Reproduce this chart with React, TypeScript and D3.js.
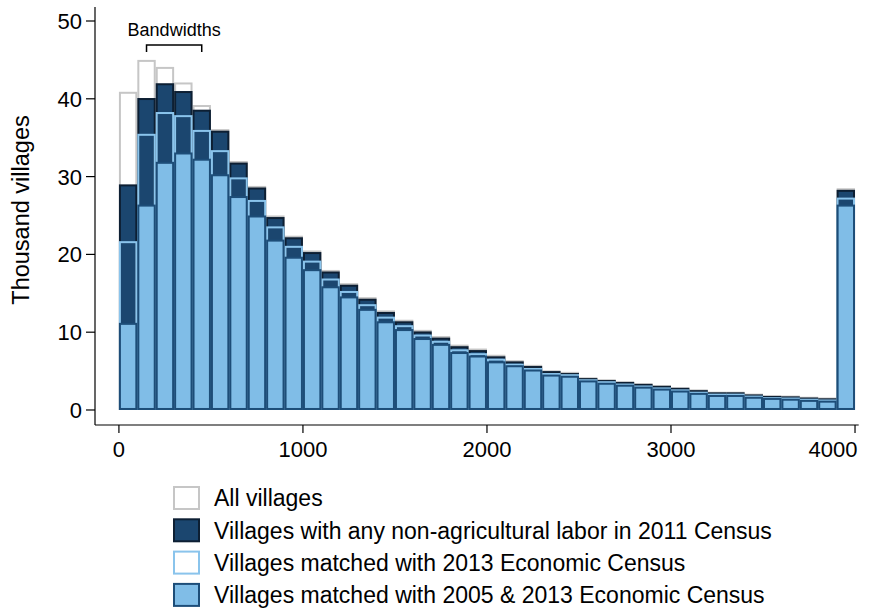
import React from "react";
import * as d3 from "d3";

const binStarts = d3.range(0, 4000, 100);

const allVillages = [40.9, 45.0, 44.1, 42.1, 39.2, 36.1, 32.0, 28.8, 25.0, 22.4, 20.5, 18.0, 16.3, 14.5, 12.8, 11.6, 10.3, 9.5, 8.4, 7.9, 7.1, 6.4, 5.8, 5.1, 4.9, 4.2, 3.95, 3.7, 3.45, 3.2, 2.9, 2.65, 2.35, 2.35, 2.1, 1.9, 1.85, 1.7, 1.6, 28.5];
const nonAgLabor = [29.0, 40.1, 42.0, 41.0, 38.6, 35.9, 31.8, 28.6, 24.8, 22.2, 20.3, 17.8, 16.1, 14.3, 12.6, 11.4, 10.1, 9.3, 8.2, 7.7, 6.9, 6.25, 5.65, 5.0, 4.75, 4.1, 3.85, 3.6, 3.35, 3.1, 2.85, 2.55, 2.27, 2.27, 2.0, 1.8, 1.75, 1.6, 1.5, 28.3];
const matched2013 = [21.7, 35.5, 38.3, 37.9, 36.0, 33.4, 29.9, 27.0, 23.6, 21.1, 19.2, 16.9, 15.3, 13.6, 12.0, 10.9, 9.7, 8.9, 7.8, 7.3, 6.6, 5.95, 5.4, 4.75, 4.6, 3.95, 3.7, 3.4, 3.15, 2.9, 2.65, 2.35, 2.1, 2.1, 1.85, 1.65, 1.6, 1.45, 1.35, 27.3];
const matchedBoth = [11.2, 26.4, 31.9, 33.1, 32.3, 30.3, 27.5, 25.0, 21.9, 19.7, 18.1, 15.9, 14.6, 13.0, 11.4, 10.4, 9.25, 8.5, 7.45, 7.0, 6.25, 5.75, 5.2, 4.55, 4.4, 3.8, 3.5, 3.25, 3.0, 2.75, 2.5, 2.2, 1.93, 1.93, 1.7, 1.55, 1.45, 1.3, 1.2, 26.4];

const xTicks = [0, 1000, 2000, 3000, 4000];
const xTickLabelAt = [0, 1000, 2000, 3000, 3880];
const yTicks = [0, 10, 20, 30, 40, 50];
const bandwidth = [150, 450];

const legendLabels = [
  "All villages",
  "Villages with any non-agricultural labor in 2011 Census",
  "Villages matched with 2013 Economic Census",
  "Villages matched with 2005 & 2013 Economic Census",
];

const FONT = "Arial, 'Liberation Sans', Helvetica, sans-serif";

const styles = [
  { fill: "none", stroke: "#c6c6c6", lw: 2 },
  { fill: "#1b466f", stroke: "#0d1f33", lw: 2 },
  { fill: "none", stroke: "#8ac4ec", lw: 2 },
  { fill: "#80bde7", stroke: "#1d4d78", lw: 2 },
];
const legendStyles = [
  { fill: "#ffffff", stroke: "#c6c6c6" },
  { fill: "#1b466f", stroke: "#0d1f33" },
  { fill: "#ffffff", stroke: "#8ac4ec" },
  { fill: "#80bde7", stroke: "#1d4d78" },
];

export default function App() {
  const W = 881, H = 609;
  const x = d3.scaleLinear().domain([-130, 4020]).range([95, 858.7]);
  const y = d3.scaleLinear().domain([-1.93, 51.8]).range([425, 7]);
  const series = [allVillages, nonAgLabor, matched2013, matchedBoth];

  return (
    <svg width={W} height={H} style={{ position: "absolute", left: 0, top: 0, background: "#fff" }} fontFamily={FONT}>
      <rect x={0} y={0} width={W} height={H} fill="#fff" />
      {series.map((vals, si) => (
        <g key={si}>
          {vals.map((v, i) => {
            const x0 = x(binStarts[i]);
            const x1 = x(binStarts[i] + 100);
            const st = styles[si];
            const half = st.lw / 2;
            return (
              <rect
                key={i}
                x={x0 + half}
                y={y(v) + half}
                width={x1 - x0 - st.lw}
                height={Math.max(0, y(0) - y(v) - st.lw)}
                fill={st.fill}
                stroke={st.stroke}
                strokeWidth={st.lw}
              />
            );
          })}
        </g>
      ))}
      {/* axes */}
      <line x1={95} x2={95} y1={y(51.8)} y2={y(-1.93)} stroke="#000" strokeWidth={1.2} />
      <line x1={x(-130)} x2={x(4020)} y1={425} y2={425} stroke="#000" strokeWidth={1.2} />
      {yTicks.map((t) => (
        <g key={t}>
          <line x1={86} x2={95} y1={y(t)} y2={y(t)} stroke="#000" strokeWidth={1.2} />
          <text x={82} y={y(t)} dy="0.36em" textAnchor="end" fontSize={22}>{t}</text>
        </g>
      ))}
      {xTicks.map((t, i) => (
        <g key={t}>
          <line x1={x(t)} x2={x(t)} y1={425} y2={433} stroke="#000" strokeWidth={1.2} />
          <text x={x(xTickLabelAt[i])} y={457} textAnchor="middle" fontSize={22}>{t}</text>
        </g>
      ))}
      <text transform={`translate(29,${210}) rotate(-90)`} textAnchor="middle" fontSize={23.5}>Thousand villages</text>
      {/* bandwidth bracket */}
      <path
        d={`M${x(bandwidth[0])},${52} V${45} H${x(bandwidth[1])} V${52}`}
        fill="none"
        stroke="#000"
        strokeWidth={1.5}
      />
      <text x={(x(bandwidth[0]) + x(bandwidth[1])) / 2} y={36} textAnchor="middle" fontSize={18}>Bandwidths</text>
      {/* legend */}
      {legendLabels.map((lab, i) => {
        const cy = 498 + i * 32.3;
        return (
          <g key={lab}>
            <rect x={174} y={cy - 11} width={25} height={22} fill={legendStyles[i].fill} stroke={legendStyles[i].stroke} strokeWidth={2} />
            <text x={214} y={cy} dy="0.36em" fontSize={23}>{lab}</text>
          </g>
        );
      })}
    </svg>
  );
}
